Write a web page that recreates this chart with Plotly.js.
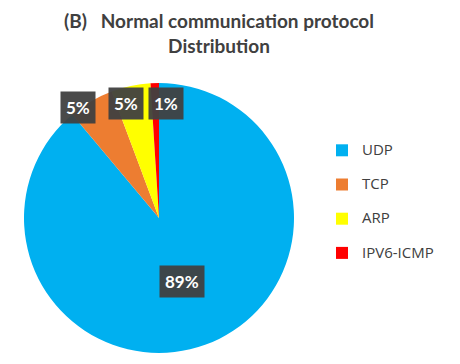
<!DOCTYPE html>
<html>
<head>
<meta charset="utf-8">
<script src="https://cdn.plot.ly/plotly-3.0.1.min.js"></script>
<style>
  html, body { margin: 0; padding: 0; background: #fff; }
  #chart { width: 460px; height: 364px; }
</style>
</head>
<body>
<div id="chart"></div>
<script>
// protocol shares (percent)
const protocols = ['UDP', 'TCP', 'ARP', 'IPV6-ICMP'];
const shares = [88.9, 5.4, 4.7, 1.0];
const sliceColors = ['#00B0F0', '#ED7D31', '#FFFF00', '#FF0000'];

const W = 460, H = 364;
// pie placement in pixels
const cx = 159, cy = 218, R = 135;

// label placement (fraction of radius + small horizontal nudge)
const labelRadius = [0.5, 0.95, 0.87, 0.85];
const labelNudge = [0, -16, -8, 11];

const total = shares.reduce((a, b) => a + b, 0);
let annotations = [];
let cum = 0;
shares.forEach((v, i) => {
    let mid = (cum + v / 2) / total * 2 * Math.PI;
    cum += v;
    let px = cx + Math.sin(mid) * R * labelRadius[i] + labelNudge[i];
    let py = cy - Math.cos(mid) * R * labelRadius[i];
    annotations.push({
        x: px / W,
        y: (H - py) / H,
        xref: 'paper',
        yref: 'paper',
        xanchor: 'center',
        yanchor: 'middle',
        text: Math.round(v / total * 100) + '%',
        showarrow: false,
        bgcolor: 'rgba(64,64,64,0.95)',
        borderpad: 5,
        font: { family: 'Lato, sans-serif', size: 17, color: '#ffffff', weight: 700 }
    });
});

// legend entries: bigger text, extra blank line to space the rows out
const legendLabels = protocols.map(p => '<span style="font-size:15px">' + p + '</span><br>\u00A0');

var data = [{
    type: 'pie',
    labels: legendLabels,
    values: shares,
    marker: { colors: sliceColors, line: { width: 0 } },
    sort: false,
    direction: 'clockwise',
    rotation: 0,
    textinfo: 'none',
    hoverinfo: 'none',
    domain: {
        x: [(cx - R) / W, (cx + R) / W],
        y: [(H - cy - R) / H, (H - cy + R) / H]
    }
}];

var layout = {
    width: W,
    height: H,
    margin: { l: 0, r: 0, t: 0, b: 0 },
    paper_bgcolor: '#ffffff',
    title: {
        text: '(B)\u00A0\u00A0\u00A0Normal communication protocol<br>Distribution',
        x: 219 / W,
        xanchor: 'center',
        y: 1 - 28 / H,
        yanchor: 'top',
        yref: 'container',
        font: { family: 'Lato, sans-serif', size: 19, color: '#404040', weight: 700 }
    },
    showlegend: true,
    legend: {
        x: 322 / W,
        xanchor: 'left',
        y: 1 - 136 / H,
        yanchor: 'top',
        valign: 'top',
        font: { family: 'Open Sans, sans-serif', size: 12, color: '#404040' },
        bgcolor: 'rgba(0,0,0,0)'
    },
    annotations: annotations
};

Plotly.newPlot('chart', data, layout, { displayModeBar: false, staticPlot: true });
</script>
</body>
</html>
